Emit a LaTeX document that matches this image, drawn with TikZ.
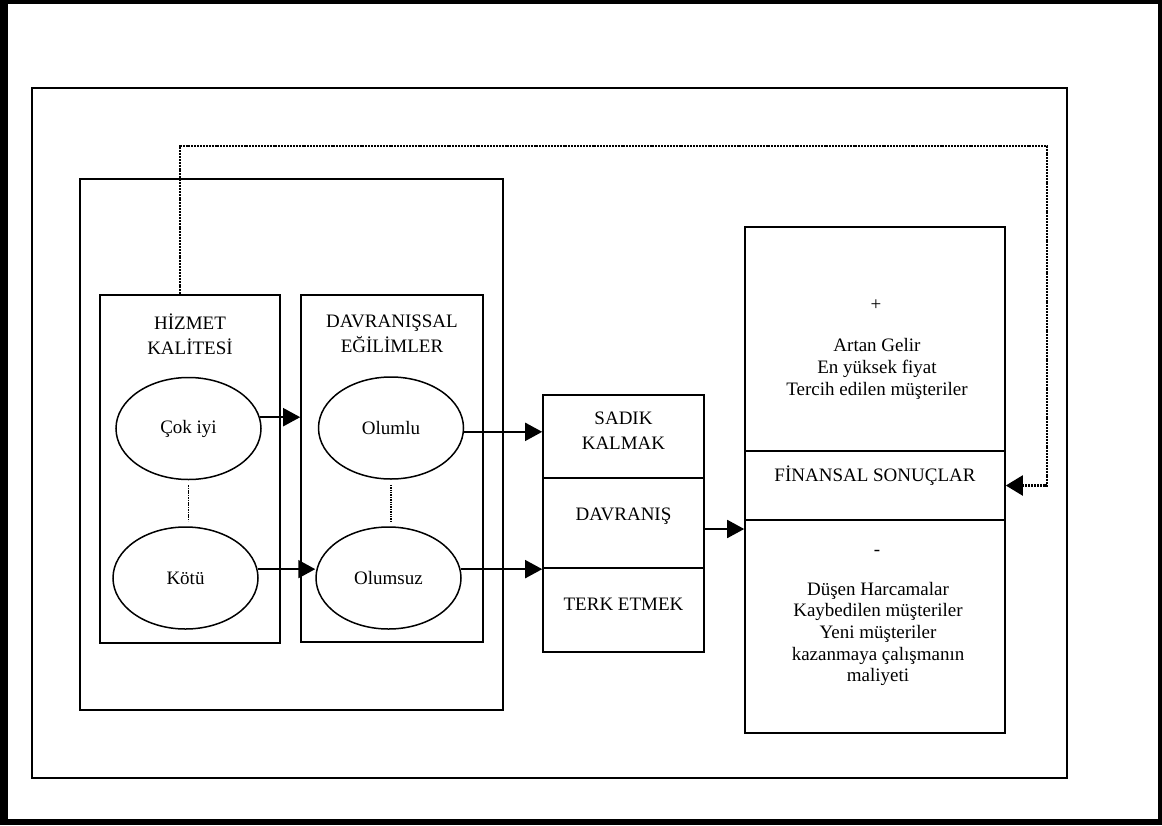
\documentclass[tikz,border=0pt]{standalone}
\usepackage{fontspec}
\setmainfont{Liberation Serif}
\usetikzlibrary{arrows.meta,calc,fit,shapes.geometric}
\begin{document}
\begin{tikzpicture}[x=1pt,y=-1pt,
  every node/.style={font=\fontsize{19}{25}\selectfont},
  frame/.style={draw,line width=1.6pt,inner sep=0pt},
  oval/.style={draw,ellipse,line width=1.5pt,minimum width=145pt,minimum height=102pt,inner sep=0pt},
  arr/.style={line width=1.8pt,-{Triangle[length=17pt,width=18pt]}},
  feedback/.style={line width=2.2pt,dash pattern=on 2pt off 0.9pt,-{Triangle[length=17pt,width=20pt]}},
  gap/.style={line width=1.7pt,dash pattern=on 1.5pt off 0.9pt},
  lines/.style={align=center,font=\fontsize{19}{21.7}\selectfont}]
\useasboundingbox (0,0) rectangle (1162,825);
% page frame
\fill[black] (0,0) rectangle (1162,825);
\fill[white] (8,4) rectangle (1158,819);
\draw[line width=1.3pt] (32,88) rectangle (1067,778);

% left model block
\node[frame,fit={(80,179) (503,710)}] (model) {};
\node[frame,fit={(100,295) (280,643)}] (hiz) {};
\node[frame,fit={(301,295) (483,642)}] (dav) {};
\node[align=center] (hizt) at (190,334) {HİZMET\\KALİTESİ};
\node[align=center] (davt) at (392,334) {DAVRANIŞSAL\\EĞİLİMLER};

\node[oval] (cok) at (188.5,428.5) {Çok iyi};
\node[oval] (kotu) at (185.5,578) {Kötü};
\node[oval] (olumlu) at (391,428) {Olumlu};
\node[oval] (olumsuz) at (388.5,578) {Olumsuz};

\draw[gap,shorten <=5pt,shorten >=5pt] (cok.south) -- (cok.south |- kotu.north);
\draw[gap,shorten <=5pt,shorten >=5pt] (olumlu.south) -- (olumlu.south |- olumsuz.north);

% behaviour column
\node[frame,fit={(543,395) (704,478)},align=center] (sadik) {SADIK\\KALMAK};
\node[frame,fit={(543,478) (704,568)}] (davr) {DAVRANIŞ};
\node[frame,fit={(543,568) (704,652)}] (terk) {TERK ETMEK};

% financial outcomes column
\node[frame,fit={(745,227) (1005,451)}] (gain) {};
\node[frame,fit={(745,451) (1005,520)}] (fin) {};
\node[frame,fit={(745,520) (1005,733)}] (loss) {};
\node (plus) at (876,305) {+};
\node[lines] (gaint) at (877,369) {Artan Gelir\\En yüksek fiyat\\Tercih edilen müşteriler};
\node (fint) at (875,476) {FİNANSAL SONUÇLAR};
\node (minus) at (877,553) {-};
\node[lines] (losst) at (878,634) {Düşen Harcamalar\\Kaybedilen müşteriler\\Yeni müşteriler\\kazanmaya çalışmanın\\maliyeti};

% connectors
\draw[arr] (cok.9) -- (cok.9 -| dav.west);
\draw[arr] (kotu.7) -- (kotu.7 -| olumsuz.west);
\draw[arr] (olumlu.-3) -- (olumlu.-3 -| sadik.west);
\draw[arr] (olumsuz.7) -- (olumsuz.7 -| terk.west);
\coordinate (dout) at ([yshift=-6pt]davr.east);
\draw[arr] (dout) -- (dout -| loss.west);

% feedback loop
\coordinate (fbturn) at (1047,146);
\draw[feedback] ([xshift=-10pt]hiz.north) |- (fbturn) |- (fin.east);
\end{tikzpicture}
\end{document}
